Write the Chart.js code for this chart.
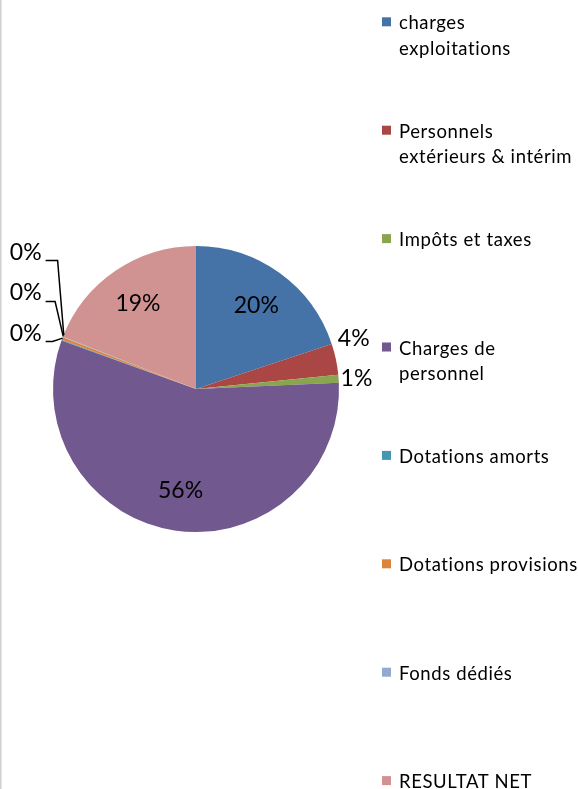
<!DOCTYPE html>
<html>
<head>
<meta charset="utf-8">
<script src="https://cdn.jsdelivr.net/npm/chart.js@4/dist/chart.umd.min.js"></script>
<style>
  html, body { margin: 0; padding: 0; background: #fff; }
  canvas { display: block; }
</style>
</head>
<body>
<canvas id="pie" width="578" height="789"></canvas>
<script>
// data (share of total, in %)
var labels = [
	['charges', 'exploitations'],
	['Personnels', 'extérieurs & intérim'],
	'Impôts et taxes',
	['Charges de', 'personnel'],
	'Dotations amorts',
	'Dotations provisions',
	'Fonds dédiés',
	'RESULTAT NET'
];
var values = [19.9, 3.5, 0.9, 56.2, 0.1, 0.3, 0.05, 19.05];
var colors = ['#4572A7', '#AA4643', '#89A54E', '#71588F', '#4198AF', '#DB843D', '#93A9CF', '#D19392'];

var FONT = 'Lato, "Noto Sans", sans-serif';

function pct(i) {
	var total = values.reduce(function(a, b){ return a + b; }, 0);
	return Math.round(values[i] / total * 100);
}

// draws percent labels, leader lines, legend and the frame line
var decor = {
	id: 'decor',
	afterDraw: function(chart) {
		var ctx = chart.ctx;
		var arcs = chart.getDatasetMeta(0).data;
		ctx.save();

		// frame edge on the left
		ctx.strokeStyle = '#d0d0d0';
		ctx.lineWidth = 1.5;
		ctx.beginPath();
		ctx.moveTo(0.75, 0);
		ctx.lineTo(0.75, chart.height);
		ctx.stroke();

		ctx.fillStyle = '#000';
		ctx.font = '23px ' + FONT;
		ctx.textBaseline = 'middle';

		var outside = [];
		var zeros = [];
		arcs.forEach(function(arc, i) {
			var p = pct(i);
			var mid = (arc.startAngle + arc.endAngle) / 2;
			var r = arc.outerRadius;
			if (p >= 10) {
				ctx.textAlign = 'center';
				ctx.fillText(p + '%', arc.x + Math.cos(mid) * r * 0.72, arc.y + Math.sin(mid) * r * 0.72);
			} else if (p >= 1) {
				outside.push({text: p + '%', x: arc.x + Math.cos(mid) * (r + 2), y: arc.y + Math.sin(mid) * (r + 2)});
			} else {
				zeros.push({text: p + '%', ex: arc.x + Math.cos(mid) * r, ey: arc.y + Math.sin(mid) * r});
			}
		});

		// small slices: outside, pushed apart
		for (var k = outside.length - 2; k >= 0; k--) {
			if (outside[k + 1].y - outside[k].y < 40) outside[k].y = outside[k + 1].y - 40;
		}
		ctx.textAlign = 'left';
		outside.forEach(function(l){ ctx.fillText(l.text, l.x, l.y); });

		// zero slices: stacked on the left with leader lines
		if (zeros.length) {
			var ax = zeros[0].ex, ay = zeros[0].ey;
			var right = ax - 20;
			ctx.textAlign = 'right';
			ctx.strokeStyle = '#000';
			ctx.lineWidth = 1.5;
			zeros.forEach(function(z, j) {
				var y = ay - 7 - j * 40.5;
				ctx.fillText(z.text, right, y);
				var ly = Math.round(y + 8) + 0.5;
				ctx.beginPath();
				ctx.moveTo(right + 4, ly);
				ctx.lineTo(right + 11 + j * 2.5, ly);
				ctx.lineTo(z.ex + 1, z.ey - 2);
				ctx.stroke();
			});
		}

		// legend
		ctx.font = '18.5px ' + FONT;
		ctx.letterSpacing = '0.6px';
		ctx.textAlign = 'left';
		ctx.textBaseline = 'alphabetic';
		labels.forEach(function(lab, i) {
			var top = 17.3 + i * 108.4;
			ctx.fillStyle = colors[i];
			ctx.fillRect(382, top, 9, 9);
			ctx.fillStyle = '#000';
			var lines = Array.isArray(lab) ? lab : [lab];
			lines.forEach(function(t, n) {
				ctx.fillText(t, 399, top + 12 + n * 25.5);
			});
		});
		ctx.restore();
	}
};

new Chart(document.getElementById('pie'), {
	type: 'pie',
	data: {
		labels: labels,
		datasets: [{
			data: values,
			backgroundColor: colors,
			borderWidth: 0
		}]
	},
	options: {
		responsive: false,
		animation: false,
		devicePixelRatio: 1,
		layout: { padding: { left: 53, right: 239, top: 246, bottom: 257 } },
		plugins: {
			legend: { display: false },
			tooltip: { enabled: false }
		}
	},
	plugins: [decor]
});
</script>
</body>
</html>
